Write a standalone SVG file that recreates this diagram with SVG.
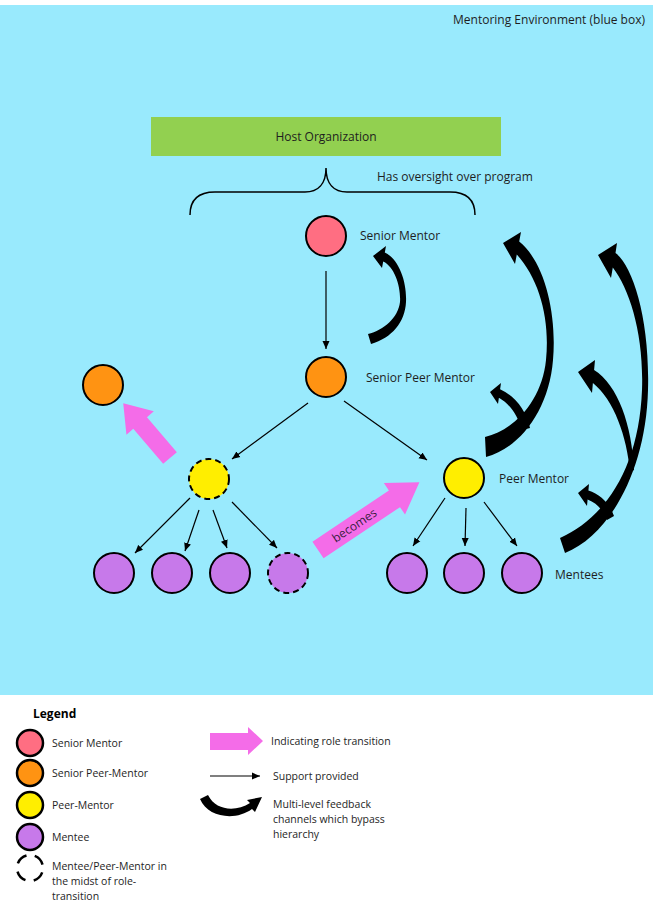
<svg xmlns="http://www.w3.org/2000/svg" width="653" height="904" viewBox="0 0 653 904">
<defs>
<style>
.t{font-family:"Open Sans","Liberation Sans",sans-serif;font-size:12px;fill:#1e1e1e}
.lt{font-family:"Open Sans","Liberation Sans",sans-serif;font-size:10.5px;fill:#1e1e1e}
.nd{stroke:#000;stroke-width:2}
.dash{stroke-dasharray:6 4}
.sup{stroke:#000;stroke-width:1.2;fill:none;marker-end:url(#ah)}
.fb{fill:#000}
.pink{fill:#F46CE8}
</style>
<marker id="ah" markerWidth="8" markerHeight="8" refX="8" refY="4" orient="auto" markerUnits="userSpaceOnUse"><path d="M0,0.5 L8,4 L0,7.5 Z" fill="#000"/></marker>
</defs>
<rect x="0" y="0" width="653" height="904" fill="#fff"/>
<rect x="0" y="5" width="653" height="690" fill="#99EAFD"/>
<text class="t" x="645" y="24" text-anchor="end" font-size="12.5">Mentoring Environment (blue box)</text>

<g id="host">
<rect x="151" y="117" width="350" height="39" fill="#92D050"/>
<text class="t" x="326" y="141" text-anchor="middle">Host Organization</text>
</g>
<g id="oversight">
<path d="M190,215 C190,200 198,192 215,192 L305,192 C318,192 326,184 326,168 C326,184 334,192 347,192 L450,192 C467,192 475,200 475,215" fill="none" stroke="#000" stroke-width="1.5"/>
<text class="t" x="377" y="181">Has oversight over program</text>
</g>

<g id="connectors">
<line class="sup" x1="326" y1="271" x2="326" y2="349"/>
<line class="sup" x1="308" y1="403" x2="232" y2="459"/>
<line class="sup" x1="344" y1="401" x2="427" y2="460"/>
<line class="sup" x1="190" y1="498" x2="135" y2="553"/>
<line class="sup" x1="199" y1="510" x2="185" y2="551"/>
<line class="sup" x1="213" y1="510" x2="227" y2="548"/>
<line class="sup" x1="232" y1="502" x2="277" y2="548"/>
<line class="sup" x1="445" y1="498" x2="413" y2="546"/>
<line class="sup" x1="466" y1="508" x2="465" y2="546"/>
<line class="sup" x1="484" y1="502" x2="517" y2="546"/>
<!-- feedback arrows -->
<path class="fb" d="M373,256 L386,246 L384.8,252.6 C399,259 407,282 406,302 C405,322 392,338 371,344 L368,334 C384,330 398,318 400,302 C401,287 395,267 383.2,261.4 L382,268 Z"/>
<path class="fb" d="M503,243 L521,232 L519.2,241.6 C545,262 557,315 553,360 C549,410 520,448 486,457 L485,437 C515,430 542,400 546,360 C550,320 540,280 516.8,254.4 L515,264 Z"/>
<path class="fb" d="M490,392 L501,383 L500.1,389.3 C515,396 526,410 530,428 L522,430 C518,416 510,404 498.9,397.7 L498,404 Z"/>
<path class="fb" d="M598,255 L617,243 L615.5,253 C633,266 650,320 648,390 C646,470 610,535 565,553 L560,538 C605,518 639,468 642,390 C644,335 630,290 612.8,267.5 L611,278 Z"/>
<path class="fb" d="M578,372 L595,360 L594.1,369.9 C618,385 632,425 634,470 L630,472 C627,437 614,400 592.9,383.1 L592,393 Z"/>
<path class="fb" d="M578,493 L589,484 L588.4,490.6 C600,494 610,504 614,516 L607,520 C603,510 597,503 587.6,499.4 L587,506 Z"/>
<!-- role transition arrows -->
<polygon class="pink" transform="translate(170,458) rotate(-130.5)" points="0,-9 46,-9 46,-18 72,0 46,18 46,9 0,9"/>
<g transform="translate(318,550) rotate(-33.8)">
<polygon class="pink" points="0,-10 92,-10 92,-19 122,0 92,19 92,10 0,10"/>
<text x="44" y="4" text-anchor="middle" font-family="'Open Sans','Liberation Sans',sans-serif" font-size="12" fill="#3a1d3f">becomes</text>
</g>
</g>

<g id="senior-mentor">
<circle class="nd" cx="326" cy="236" r="20" fill="#FF6E82"/>
<text class="t" x="360" y="240">Senior Mentor</text>
</g>
<g id="senior-peer-mentor">
<circle class="nd" cx="326" cy="377" r="20" fill="#FF9312"/>
<text class="t" x="366" y="382">Senior Peer Mentor</text>
</g>
<g id="former-peer-mentor">
<circle class="nd" cx="103" cy="385" r="20" fill="#FF9312"/>
</g>
<g id="transitioning-peer-mentor">
<circle class="nd dash" cx="209" cy="479" r="20" fill="#FFEE00"/>
</g>
<g id="peer-mentor">
<circle class="nd" cx="464" cy="478" r="20" fill="#FFEE00"/>
<text class="t" x="499" y="483">Peer Mentor</text>
</g>
<g id="mentee-l1"><circle class="nd" cx="114" cy="573" r="20" fill="#C779EA"/></g>
<g id="mentee-l2"><circle class="nd" cx="172" cy="573" r="20" fill="#C779EA"/></g>
<g id="mentee-l3"><circle class="nd" cx="230" cy="573" r="20" fill="#C779EA"/></g>
<g id="mentee-l4"><circle class="nd dash" cx="288" cy="573" r="20" fill="#C779EA"/></g>
<g id="mentee-r1"><circle class="nd" cx="407" cy="573" r="20" fill="#C779EA"/></g>
<g id="mentee-r2"><circle class="nd" cx="464" cy="573" r="20" fill="#C779EA"/></g>
<g id="mentee-r3"><circle class="nd" cx="522" cy="573" r="20" fill="#C779EA"/>
<text class="t" x="555" y="579">Mentees</text></g>

<g id="legend">
<text x="33" y="718" font-family="'Open Sans','Liberation Sans',sans-serif" font-size="12" font-weight="bold" fill="#000">Legend</text>
<circle cx="30" cy="743" r="13" fill="#FF6E82" stroke="#000" stroke-width="2.5"/>
<text class="lt" x="52" y="747">Senior Mentor</text>
<circle cx="30" cy="773" r="13" fill="#FF9312" stroke="#000" stroke-width="2.5"/>
<text class="lt" x="52" y="777">Senior Peer-Mentor</text>
<circle cx="30" cy="805" r="13" fill="#FFEE00" stroke="#000" stroke-width="2.5"/>
<text class="lt" x="52" y="809">Peer-Mentor</text>
<circle cx="30" cy="837" r="13" fill="#C779EA" stroke="#000" stroke-width="2.5"/>
<text class="lt" x="52" y="841">Mentee</text>
<circle cx="30" cy="868" r="13" fill="none" stroke="#000" stroke-width="2.5" stroke-dasharray="12 8.4" transform="rotate(20 30 868)"/>
<text class="lt" x="52" y="870">Mentee/Peer-Mentor in</text>
<text class="lt" x="52" y="885">the midst of role-</text>
<text class="lt" x="52" y="900">transition</text>
<polygon class="pink" points="210,733 248,733 248,727 263,741 248,755 248,750 210,750"/>
<text class="lt" x="271" y="745">Indicating role transition</text>
<line class="sup" x1="210" y1="776" x2="260" y2="776"/>
<text class="lt" x="273" y="780">Support provided</text>
<path class="fb" d="M200,799 C208,818 236,821 252,809 L255,812 L262,797 L247,800 L250,803 C236,812 216,811 208,795 Z"/>
<text class="lt" x="273" y="808">Multi-level feedback</text>
<text class="lt" x="273" y="823">channels which bypass</text>
<text class="lt" x="273" y="838">hierarchy</text>
</g>
</svg>
